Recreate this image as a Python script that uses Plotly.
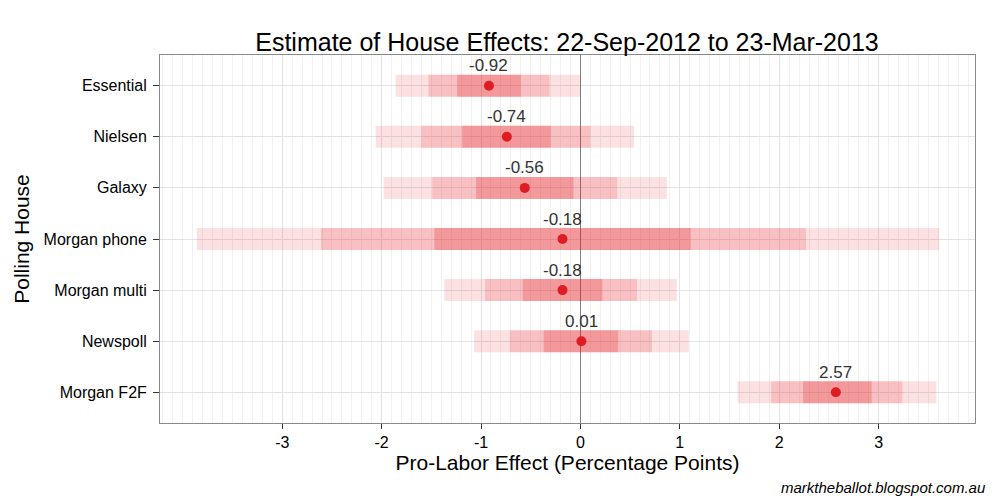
import plotly.graph_objects as go

houses = ["Essential", "Nielsen", "Galaxy", "Morgan phone", "Morgan multi", "Newspoll", "Morgan F2F"]
means = [-0.92, -0.74, -0.56, -0.18, -0.18, 0.01, 2.57]
labels = ["-0.92", "-0.74", "-0.56", "-0.18", "-0.18", "0.01", "2.57"]
# 95% interval
outer_lo = [-1.86, -2.06, -1.98, -3.86, -1.37, -1.07, 1.58]
outer_hi = [0.00, 0.54, 0.87, 3.61, 0.97, 1.09, 3.58]
# 80% interval
mid_lo = [-1.53, -1.60, -1.49, -2.61, -0.96, -0.71, 1.92]
mid_hi = [-0.31, 0.10, 0.37, 2.27, 0.57, 0.72, 3.24]
# 50% interval
inner_lo = [-1.24, -1.19, -1.05, -1.47, -0.58, -0.37, 2.24]
inner_hi = [-0.60, -0.30, -0.07, 1.11, 0.22, 0.38, 2.93]

xticks = [-3, -2, -1, 0, 1, 2, 3]
xticklabels = ["-3", "-2", "-1", "0", "1", "2", "3"]

fig = go.Figure()
for lo, hi, alpha in [(outer_lo, outer_hi, 0.13), (mid_lo, mid_hi, 0.16), (inner_lo, inner_hi, 0.23)]:
    fig.add_trace(go.Bar(
        y=houses, x=[h - l for l, h in zip(lo, hi)], base=lo, orientation="h",
        width=0.43, marker=dict(color=f"rgba(228,26,28,{alpha})", line=dict(width=0)),
        hoverinfo="skip", showlegend=False))

fig.add_trace(go.Scatter(
    x=means, y=houses, mode="markers",
    marker=dict(color="#de1c24", size=10), showlegend=False))

for h, m, t in zip(houses, means, labels):
    fig.add_annotation(x=m, y=h, text=t, showarrow=False, yshift=20,
                       font=dict(size=17, color="#333333"))

fig.add_annotation(xref="paper", yref="paper", x=1.016, y=-0.176, xanchor="right", yanchor="middle",
                   text="<i>marktheballot.blogspot.com.au</i>",
                   showarrow=False, font=dict(size=15, color="black"))

fig.update_layout(
    width=1000, height=500,
    margin=dict(l=160, r=25, t=55, b=77),
    paper_bgcolor="white", plot_bgcolor="white",
    barmode="overlay",
    font=dict(family="Liberation Sans, Arial, sans-serif", color="black"),
    title=dict(text="Estimate of House Effects: 22-Sep-2012 to 23-Mar-2013",
               x=0.567, xanchor="center", y=0.916, yanchor="middle", yref="container",
               font=dict(size=25, color="black")),
    xaxis=dict(range=[-4.23, 3.97], tickvals=xticks, ticktext=xticklabels,
               showgrid=True, gridcolor="#e3e3e3", gridwidth=1,
               minor=dict(dtick=0.1, tick0=0, showgrid=True, gridcolor="#f1f1f1", gridwidth=1, ticks=""),
               zeroline=True, zerolinecolor="#808080", zerolinewidth=1.2,
               showline=True, linecolor="#8a8a8a", linewidth=1, mirror=True,
               ticks="outside", ticklen=5, tickcolor="#333333", tickwidth=1,
               tickfont=dict(size=16, color="black"),
               title=dict(text="Pro-Labor Effect (Percentage Points)", font=dict(size=21, color="black"), standoff=4)),
    yaxis=dict(categoryorder="array", categoryarray=houses, autorange=False, range=[6.6, -0.6],
               showgrid=True, gridcolor="#e3e3e3", gridwidth=1,
               showline=True, linecolor="#8a8a8a", linewidth=1, mirror=True,
               ticks="outside", ticklen=6, tickcolor="#333333", tickwidth=1,
               ticklabelstandoff=3,
               tickfont=dict(size=16, color="black"),
               title=dict(text="Polling House", font=dict(size=21, color="black"), standoff=8)),
)

fig.write_html("out.html", config={"displayModeBar": False},
               post_script="document.body.style.margin='0';")
